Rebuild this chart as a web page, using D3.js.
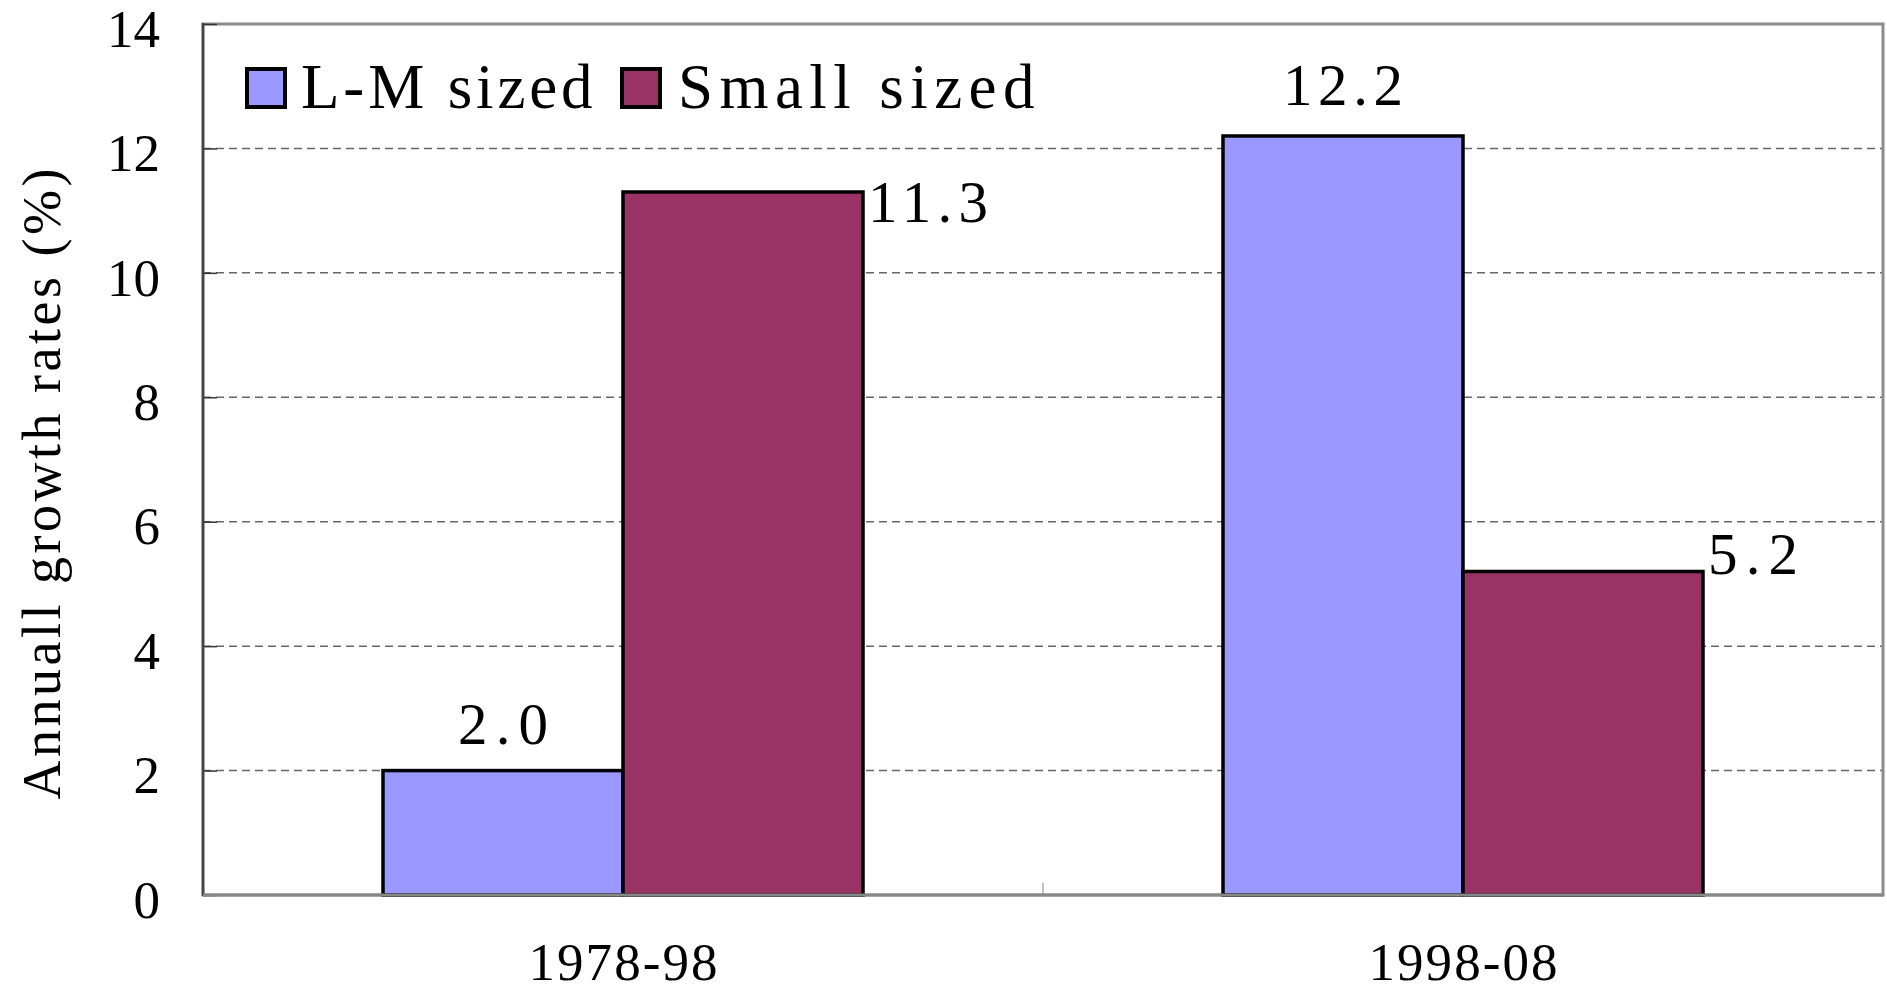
<!DOCTYPE html>
<html>
<head>
<meta charset="utf-8">
<script src="https://cdn.jsdelivr.net/npm/d3@7"></script>
<style>
  body { margin: 0; background: #fff; }
  svg { display: block; }
  text { font-family: "Liberation Serif", "Times New Roman", serif; fill: #000; }
</style>
</head>
<body>
<div id="chart"></div>
<script>
// data
var categories = ["1978-98", "1998-08"];
var seriesNames = ["L-M sized", "Small sized"];
var lmSized = [2.0, 12.2];
var smallSized = [11.3, 5.2];
var yTicks = [0, 2, 4, 6, 8, 10, 12, 14];
var yTitle = "Annuall growth rates (%)";

var colors = ["#9999ff", "#993366"];

var width = 1887,
    height = 994,
    plot = { left: 203, right: 1883, top: 24, bottom: 895 };

// where each value label sits (excel put a couple of them beside the bar)
var labelPlace = {
    "1978-98|L-M sized": { side: "top", dy: -27 },
    "1978-98|Small sized": { side: "right", dy: 30 },
    "1998-08|L-M sized": { side: "top", dy: -31 },
    "1998-08|Small sized": { side: "right", dy: 3 }
};

var rows = [];
categories.forEach(function (c, i) {
    rows.push({ cat: c, series: seriesNames[0], value: lmSized[i] });
    rows.push({ cat: c, series: seriesNames[1], value: smallSized[i] });
});

var svg = d3.select("#chart")
    .append("svg")
    .attr("width", width)
    .attr("height", height);

var y = d3.scaleLinear().domain([0, 14]).range([plot.bottom, plot.top]);

var x0 = d3.scaleBand()
    .domain(categories)
    .range([plot.left, plot.right])
    .padding(0);

var x1 = d3.scaleBand()
    .domain(seriesNames)
    .range([0, x0.bandwidth()])
    .paddingInner(0)
    .paddingOuter(0.75);

var color = d3.scaleOrdinal().domain(seriesNames).range(colors);

// spread text out to a fixed cell width, like the wide cjk font of the original
function spaced(sel, cell) {
    sel.each(function () {
        var t = d3.select(this);
        var n = t.text().length;
        t.attr("textLength", n * cell).attr("lengthAdjust", "spacing");
    });
}

// gridlines
svg.append("g")
    .selectAll("line")
    .data(yTicks.filter(function (d) { return d > 0 && d < 14; }))
    .enter()
    .append("line")
    .attr("x1", plot.left)
    .attr("x2", plot.right)
    .attr("y1", function (d) { return y(d); })
    .attr("y2", function (d) { return y(d); })
    .style("stroke", "#666")
    .style("stroke-width", 1.5)
    .style("stroke-dasharray", "8,5");

// frame
svg.append("rect")
    .attr("x", plot.left)
    .attr("y", plot.top)
    .attr("width", plot.right - plot.left)
    .attr("height", plot.bottom - plot.top)
    .style("fill", "none")
    .style("stroke", "#8c8c8c")
    .style("stroke-width", 3);

// bars
svg.append("g")
    .selectAll("rect")
    .data(rows)
    .enter()
    .append("rect")
    .attr("x", function (d) { return x0(d.cat) + x1(d.series); })
    .attr("y", function (d) { return y(d.value); })
    .attr("width", x1.bandwidth())
    .attr("height", function (d) { return y(0) - y(d.value); })
    .style("fill", function (d) { return color(d.series); })
    .style("stroke", "#000")
    .style("stroke-width", 3.5);

// y axis
var yAxis = svg.append("g")
    .attr("transform", "translate(" + plot.left + ",0)")
    .call(d3.axisLeft(y).tickValues(yTicks).tickSizeInner(-14).tickSizeOuter(0).tickPadding(43));

yAxis.select(".domain").remove();
yAxis.selectAll(".tick line").style("stroke", "#333").style("stroke-width", 1.5);
yAxis.selectAll(".tick text")
    .attr("dy", "0.42em")
    .style("font-family", "'Liberation Serif', serif")
    .style("font-size", "53px")
    .style("fill", "#000");

svg.append("line")
    .attr("x1", plot.left).attr("x2", plot.left)
    .attr("y1", plot.top - 1).attr("y2", plot.bottom + 1)
    .style("stroke", "#444")
    .style("stroke-width", 2.5);

svg.append("line")
    .attr("x1", plot.left).attr("x2", plot.right + 1)
    .attr("y1", plot.bottom).attr("y2", plot.bottom)
    .style("stroke", "#888")
    .style("stroke-width", 3);

// category divider tick
svg.append("line")
    .attr("x1", x0(categories[1])).attr("x2", x0(categories[1]))
    .attr("y1", plot.bottom).attr("y2", plot.bottom - 12)
    .style("stroke", "#888")
    .style("stroke-width", 1);

// category labels
var catCell = 27;
svg.append("g")
    .selectAll("text")
    .data(categories)
    .enter()
    .append("text")
    .attr("x", function (d) { return x0(d) + x0.bandwidth() / 2 - d.length * catCell / 2; })
    .attr("y", 980)
    .style("font-size", "53px")
    .text(function (d) { return d; })
    .call(spaced, catCell);

// y title
var titleCell = 26.3;
svg.append("text")
    .attr("transform", "translate(60,484) rotate(-90)")
    .attr("x", -yTitle.length * titleCell / 2)
    .attr("y", 0)
    .style("font-size", "54px")
    .text(yTitle)
    .call(spaced, titleCell);

// value labels
var valCell = 30;
svg.append("g")
    .selectAll("text")
    .data(rows)
    .enter()
    .append("text")
    .attr("x", function (d) {
        var p = labelPlace[d.cat + "|" + d.series];
        var s = d.value.toFixed(1);
        if (p.side == "right") {
            return x0(d.cat) + x1(d.series) + x1.bandwidth() + 5;
        }
        return x0(d.cat) + x1(d.series) + x1.bandwidth() / 2 - s.length * valCell / 2;
    })
    .attr("y", function (d) {
        return y(d.value) + labelPlace[d.cat + "|" + d.series].dy;
    })
    .style("font-size", "59px")
    .text(function (d) { return d.value.toFixed(1); })
    .call(spaced, valCell);

// legend
var legendX = [245, 620],
    legendCell = 32.4;

var legend = svg.append("g")
    .selectAll("g")
    .data(seriesNames)
    .enter()
    .append("g")
    .attr("transform", function (d, i) { return "translate(" + legendX[i] + ",67)"; });

legend.append("rect")
    .attr("x", 2)
    .attr("y", 2)
    .attr("width", 38)
    .attr("height", 38)
    .style("fill", function (d) { return color(d); })
    .style("stroke", "#000")
    .style("stroke-width", 4);

legend.append("text")
    .attr("x", function (d, i) { return i == 0 ? 56 : 58; })
    .attr("y", 41)
    .style("font-size", "63px")
    .text(function (d) { return d; })
    .call(spaced, legendCell);
</script>
</body>
</html>
